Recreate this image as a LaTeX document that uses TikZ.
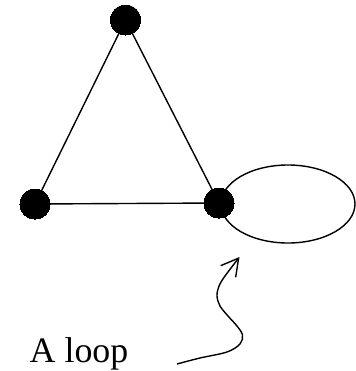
\documentclass[tikz,border=0pt]{standalone}
\usepackage{fontspec}
\setmainfont{Liberation Serif}
\usetikzlibrary{shapes.geometric,arrows.meta}
\begin{document}
\begin{tikzpicture}[x=1bp,y=-1bp,line width=1.4bp,
  vertex/.style={circle,fill=black,draw=black,line width=0pt,minimum size=30bp,inner sep=0pt},
  loopshape/.style={ellipse,draw,minimum width=134bp,minimum height=78bp,inner sep=0pt},
  label/.style={font=\fontsize{36}{40}\selectfont,inner sep=0pt,anchor=base west}]
\useasboundingbox (0,0) rectangle (356,371);
\node[loopshape] (loop) at (288,204) {};
\node[vertex] (top) at (125.5,20) {};
\node[vertex] (left) at (35,204) {};
\node[vertex] (right) at (219,203) {};
\draw (top) -- (left);
\draw (top) -- (right);
\draw (left) -- (right);
\node[label] (txt) at (29,362) {A loop};
\coordinate (tail) at (177,364);
\coordinate (tip) at (239.5,257);
\draw[-{Straight Barb[length=17bp,width=19bp]}] plot[smooth,tension=0.55] coordinates {(tail) (200,358) (227,352) (240,344) (242.5,335) (237,326) (228,316) (220,306) (217,296) (219,286) (225,276) (tip)};
\end{tikzpicture}
\end{document}
